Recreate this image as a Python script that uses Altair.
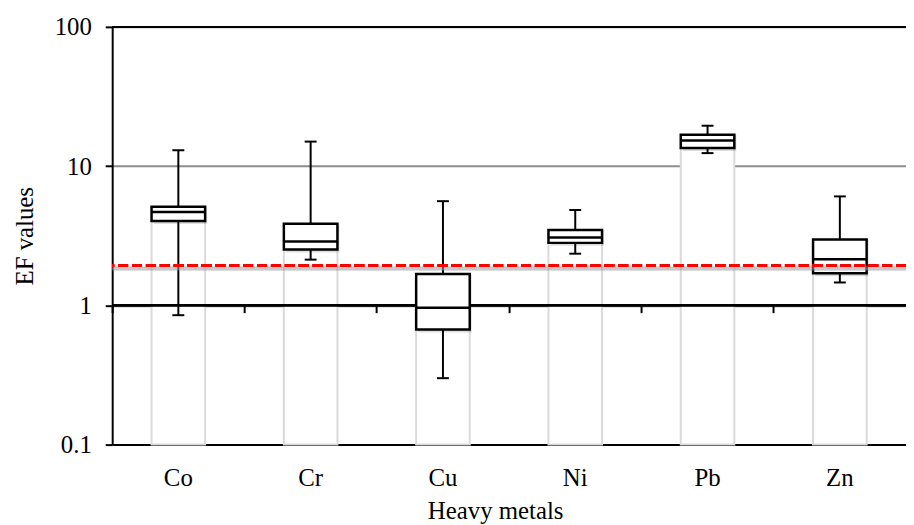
import altair as alt
import pandas as pd

# ---- data ----
metals = ["Co", "Cr", "Cu", "Ni", "Pb", "Zn"]
minimum = [0.85, 2.13, 0.30, 2.35, 12.4, 1.46]
q1 = [4.04, 2.52, 0.67, 2.81, 13.5, 1.70]
median = [4.68, 2.87, 0.96, 3.07, 15.3, 2.14]
q3 = [5.11, 3.85, 1.68, 3.48, 16.8, 2.97]
maximum = [13.0, 15.0, 5.6, 4.84, 19.5, 6.06]
threshold = 1.93
y_ticks = [0.1, 1, 10, 100]
y_min, y_max = 0.1, 100
axis_cross = 1

W, H = 800, 421
BOX = 54
FONT = "Liberation Serif"
FS = 25
CROSS_OFFSET = -140  # pixel offset of the category tick axis (sits on the y=1 line)

df = pd.DataFrame(dict(metal=metals, lo=minimum, q1=q1, med=median, q3=q3, hi=maximum))

xscale = alt.Scale(paddingInner=0, paddingOuter=0)
xenc = alt.X(
    "metal:N", sort=metals, scale=xscale,
    axis=alt.Axis(
        title="Heavy metals", labelAngle=0, ticks=False, tickSize=0,
        domainColor="black", domainWidth=2,
        labelPadding=41, labelBaseline="alphabetic",
        titleBaseline="alphabetic", titleY=74, titleX=386, titleAlign="center",
    ),
)
yscale = alt.Scale(type="log", domain=[y_min, y_max])
yaxis = alt.Axis(
    title="EF values", values=y_ticks, format="~g",
    grid=True, gridColor="#8c8c8c", gridWidth=2,
    tickSize=7, tickColor="black", tickWidth=2,
    domainColor="black", domainWidth=2,
    labelPadding=14,
    titleX=-80, titleBaseline="alphabetic", titleAngle=-90,
)

def Y(field):
    return alt.Y(field + ":Q", scale=yscale, axis=yaxis)

base = alt.Chart(df)

columns = base.mark_bar(size=BOX, fill="white", stroke="#dadada", strokeWidth=2).encode(
    x=xenc, y=Y("q1"), y2=alt.datum(y_min)
)
cross_line = base.mark_rule(color="black", strokeWidth=2).encode(y=alt.datum(axis_cross))
top_line = base.mark_rule(color="black", strokeWidth=2).encode(y=alt.datum(y_max))
whisker = base.mark_rule(color="black", strokeWidth=2).encode(x=xenc, y=Y("lo"), y2="hi:Q")
shadow = base.mark_bar(size=BOX, color="black", opacity=0.13, xOffset=2, yOffset=3).encode(
    x=xenc, y=Y("q1"), y2="q3:Q"
)
box = base.mark_bar(size=BOX, fill="white", stroke="black", strokeWidth=2.5).encode(
    x=xenc, y=Y("q1"), y2="q3:Q"
)
med = base.mark_tick(size=BOX, thickness=2.5, color="black", opacity=1).encode(x=xenc, y=Y("med"))
cap_lo = base.mark_tick(size=12, thickness=2, color="black", opacity=1).encode(x=xenc, y=Y("lo"))
cap_hi = base.mark_tick(size=12, thickness=2, color="black", opacity=1).encode(x=xenc, y=Y("hi"))
red_shadow = base.mark_rule(color="#999999", opacity=0.12, strokeWidth=4, yOffset=3).encode(
    y=alt.datum(threshold)
)
red = base.mark_rule(color="#ff0000", strokeWidth=3, strokeDash=[10, 4]).encode(y=alt.datum(threshold))

main = alt.layer(
    columns, cross_line, top_line, whisker, shadow, box, med, cap_lo, cap_hi, red_shadow, red,
)

tick_layer = base.mark_point(opacity=0).encode(
    x=alt.X(
        "metal:N", sort=metals, scale=xscale,
        axis=alt.Axis(
            orient="bottom", offset=CROSS_OFFSET, labels=False, domain=False, title=None,
            ticks=True, tickSize=7, tickWidth=2, tickColor="black", bandPosition=0, grid=False,
        ),
    ),
    y=Y("med"),
)

chart = alt.layer(main, tick_layer).resolve_axis(x="independent").properties(
    width=W, height=H, autosize="none",
    padding={"left": 105, "top": 17, "right": 0, "bottom": 79},
    background="white",
).configure_view(stroke=None).configure_axis(
    labelFont=FONT, labelFontSize=FS, labelColor="black",
    titleFont=FONT, titleFontSize=FS, titleColor="black", titleFontWeight="normal",
)

chart.save("out.html", embed_options={"renderer": "svg", "actions": False})
